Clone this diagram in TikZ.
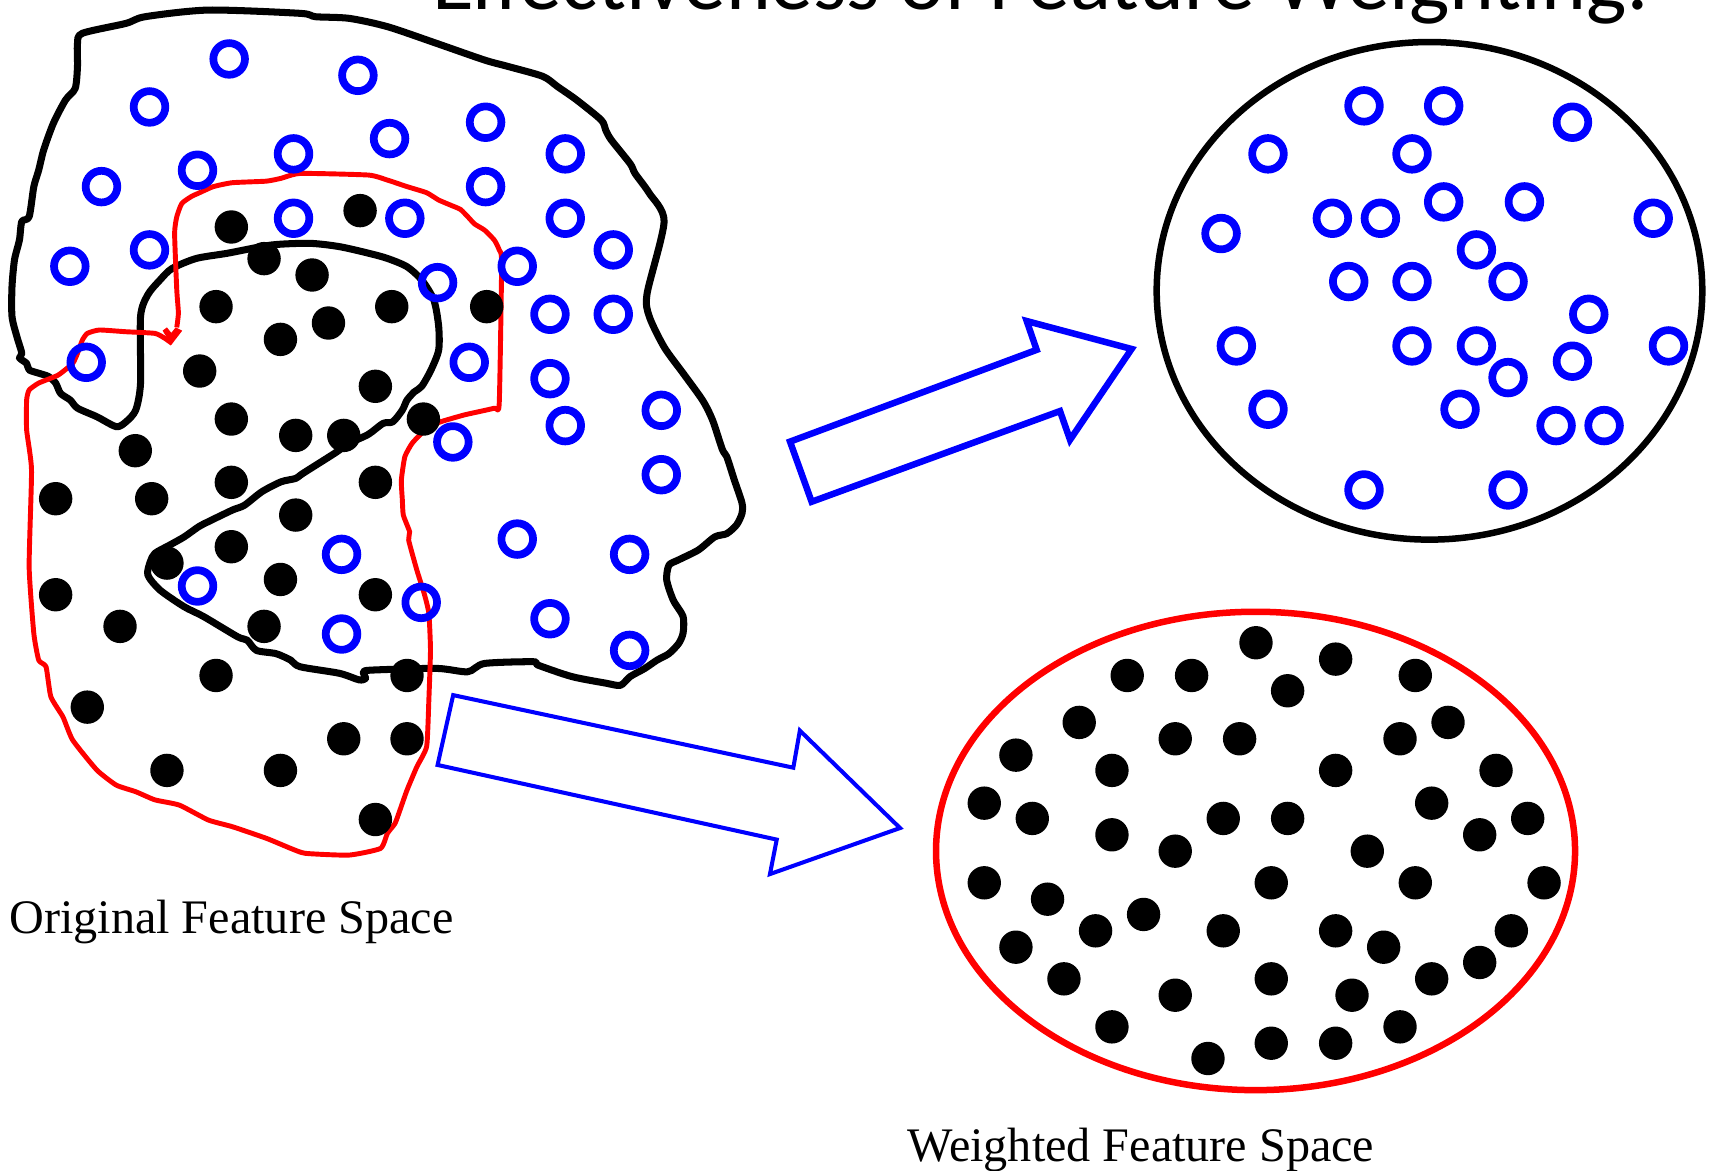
\documentclass[tikz,border=0pt]{standalone}
\usepackage{fontspec}
\setmainfont{Liberation Serif}
\newfontfamily\titlefont{Carlito}
\usetikzlibrary{arrows.meta, positioning}
\definecolor{classblue}{RGB}{0,0,255}
\definecolor{classred}{RGB}{255,0,0}
\tikzset{
  openpt/.style={draw=classblue, line width=2.2pt},
  fullpt/.style={fill=black},
  bigarrow/.style={draw=classblue, line join=miter},
  label/.style={font=\fontsize{13.7}{16}\selectfont, anchor=base west, inner sep=0pt}
}

\begin{document}
\begin{tikzpicture}[x=0.010912cm, y=-0.010912cm]
          \useasboundingbox (0,0) rectangle (1568,1073);
          % title, cut by the top edge
          \node[font=\titlefont\fontsize{24.3}{28}\selectfont, anchor=base, inner sep=0pt] (title) at (954,9) {Effectiveness of Feature Weighting:};
          % original space: outer black region
          \draw[line width=2pt, line join=round] plot[smooth cycle, tension=0.45] coordinates {
            (71,40) (75.5,30.5) (115.5,21.4) (133,15.3) (191,9.2) (275,12.2) (289,15.3) (320,16.8) (355,24.4) (400,39.7)
            (444,55) (466,61) (497.5,70) (511,79.4) (528.6,91.7) (551,110) (555,119) (560,128) (577.5,150) (582,159)
            (595,177) (608.6,203) (593,269) (595,290) (608.6,318) (626,342) (644,367) (653,385) (662,412) (666,418.5)
            (673,440) (680,461) (680,470.5) (675,481) (666,489) (655,492) (640,504) (622,513) (613,518) (611,531.6)
            (617,550) (626,565) (626,580) (622,589.6) (613,599) (602,605) (591,612.5) (577.5,620) (568.6,628) (555,626)
            (524,620) (493,609.5) (488.6,606.4) (444,608) (428.6,615.6) (400,612.5) (342,614) (333,615.6) (335,621.7) (329,623)
            (311,617) (275,611) (266.5,605) (253,599) (235,596) (226.5,586.6) (217.7,583.5) (186.6,565) (168.8,556) (146.6,540.7)
            (135.5,527) (137.7,514.8) (142,507) (155.5,499.5) (168.8,492) (182,482.7) (191,478) (213,467.4) (224,463) (240,450.6)
            (257.6,441.5) (271,438.4) (277.6,433.8) (306.5,415.5) (320,406.3) (337.6,398) (351,388) (360,386.5) (368.7,375.8) (373,366.6)
            (379.8,359) (386.5,354) (395,339) (402,320.8) (402,299) (397.6,275) (386.5,256.6) (373,244.4) (355,236.8) (337.6,232)
            (311,226) (284,223) (248.8,224.5) (208.8,232) (180,236.8) (157.7,246) (146.6,256.6) (135.5,270) (128.8,290) (128.8,351)
            (124.4,375.8) (115.5,386.5) (106.6,391) (88.8,381.9) (71,374) (64.4,366.6) (55.5,360.5) (51,351) (44.4,345) (35.5,342)
            (26.7,339) (24.4,333) (17.8,328) (20,323.8) (15.5,308.6) (11,290) (11,262.7) (13.3,238) (17.8,220) (20,203)
            (26.7,198.6) (31,171) (35.5,155.8) (40,137.5) (48.9,113) (60,91.7) (68.9,81) (71,61)};
          % original space: red region
          \draw[classred, line width=1.4pt, line join=round] plot[smooth, tension=0.3] coordinates {
            (162,300) (163.5,287) (162,265.8) (160,213.9) (162,198.6) (166.6,186.4) (175.5,180) (182,177) (195.5,171) (213,167.4)
            (244,166) (257.6,163.4) (275.4,158.9) (337.6,160.4) (355,165) (373,171) (391,176.6) (402,183.3) (413,188) (422,191.9)
            (428.7,198.6) (435,205.3) (444,210.8) (453,220) (457.5,229) (459.7,241) (457.5,369.7) (453,374) (426.4,380) (408.7,385)
            (400,388) (386.5,397) (377.6,406.3) (371,418.5) (367.8,440) (368.7,458) (369.6,472) (375.4,487.3) (374.5,495) (382,522.4)
            (388.7,543.8) (393,562) (394.5,595.7) (393,641.6) (391,684) (382,702.7) (373,724) (366.5,742.4) (362,754.6) (355,763.7)
            (348.7,777.5) (319.8,783.6) (279.9,782) (266.5,777.5) (244.3,768.3) (213,757.6) (191,751.5) (164.4,737.8) (142,733) (124.4,725.5)
            (106.6,719.5) (88.8,705.7) (66.6,678.2) (57.7,657) (46.6,638.5) (42.2,611) (35.5,605) (31,580.5) (26.7,519.4) (28.9,430.8)
            (24.4,394) (24.4,366.6) (26.7,357.4) (35.5,351) (53.3,343.7) (66.6,333) (71,323.8) (75.5,311.6) (80,305.5) (91,302.4)
            (115.5,304) (142,305.5) (151,310) (157.7,314.7)};
          \fill[classred] (149,303) -- (157,316) -- (167,303) -- (161,300) -- (157,305) -- (153,300) -- cycle;
          % weighted spaces
          \draw[line width=1.85pt] (1310,266.5) ellipse [x radius=250, y radius=228];
          \draw[classred, line width=1.85pt] (1150.6,779.8) ellipse [x radius=292.8, y radius=219.2];
          % block arrows
          \draw[bigarrow, line width=1.85pt] (724,404.7) -- (950,320.6) -- (940.9,294.2) -- (1037,319.8) -- (980.6,403) -- (971.4,376.7) -- (743.8,459.8) -- cycle;
          \draw[bigarrow, line width=1.15pt] (415.3,637) -- (727,703.5) -- (733,669.5) -- (824.8,758.8) -- (705.6,801) -- (711.8,769.4) -- (401,701) -- cycle;
          % open points
          \foreach \x/\y in {210/54, 328/69, 137/98, 357/127, 445/112, 93/171, 181/156, 269/141, 518/141, 445/171,
                             64/244, 137/229, 269/200, 371/200, 518/200, 562/229, 474/244, 401/259, 504/288, 562/288,
                             79/332, 430/332, 504/347, 606/376, 518/390, 415/405, 606/435, 474/494, 577/508, 313/508,
                             181/537, 386/552, 313/581, 504/567, 577/596,
                             1250/97, 1323/97, 1441/112, 1162/141, 1294/141, 1119/214, 1221/200, 1265/200, 1323/185, 1397/185,
                             1515/200, 1353/229, 1236/258, 1294/258, 1382/258, 1456/288, 1133/317, 1294/317, 1353/317, 1441/331,
                             1529/317, 1382/346, 1162/375, 1338/375, 1426/390, 1470/390, 1250/449, 1382/449}
            \draw[openpt] (\x,\y) circle (14.5);
          % filled points
          \foreach \x/\y in {212/208, 330/193, 242/237, 286/252, 198/281, 359/281, 301/296, 257/311, 446/281, 183/340,
                             344/354, 212/384, 271/399, 315/399, 388/384, 124/413, 51/457, 139/457, 212/442, 344/442,
                             271/472, 212/501, 153/516, 257/531, 344/545, 51/545, 110/574, 242/574, 198/619, 373/619,
                             80/648, 315/677, 373/677, 153/706, 257/706, 344/751,
                             1151/589, 1224/604, 1033/619, 1092/619, 1297/619, 1180/633, 989/662, 1327/662, 1077/677, 1136/677,
                             1283/677, 931/692, 1019/706, 1224/706, 1371/706, 902/736, 1312/736, 946/750, 1121/750, 1180/750,
                             1400/750, 1019/765, 1356/765, 1077/780, 1253/780, 902/809, 1165/809, 1297/809, 1415/809, 960/824,
                             1048/838, 1004/853, 1121/853, 1224/853, 1385/853, 931/868, 1268/868, 975/897, 1165/897, 1312/897,
                             1356/882, 1077/912, 1239/912, 1019/941, 1283/941, 1165/956, 1224/956, 1107/970}
            \fill[fullpt] (\x,\y) circle (15.3);
          % captions
          \node[label] (origlabel) at (8,855) {Original Feature Space};
          \node[label] (weightlabel) at (831,1064) {Weighted Feature Space};
        \end{tikzpicture}
\end{document}
